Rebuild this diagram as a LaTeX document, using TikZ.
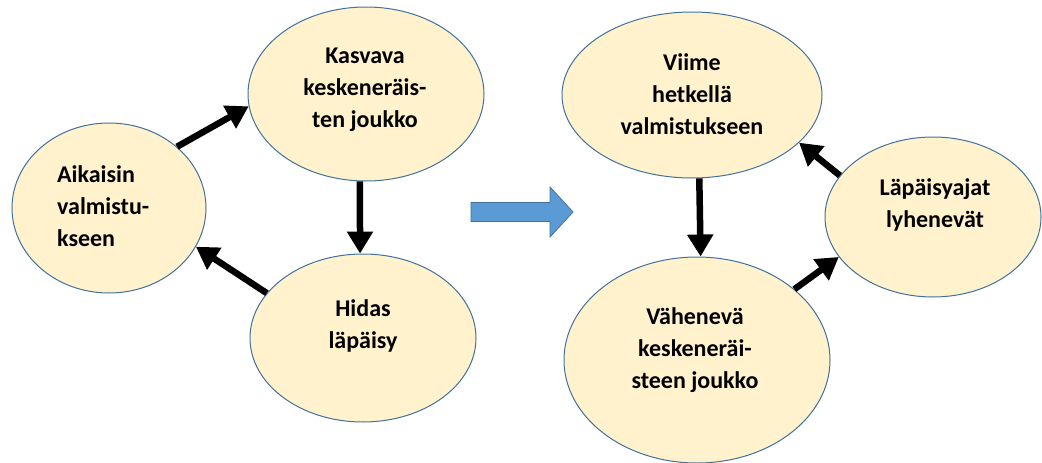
\documentclass[tikz,border=0pt]{standalone}
\usepackage{fontspec}
\setmainfont{Carlito}
\usetikzlibrary{arrows.meta,shapes.geometric}
\definecolor{bubblefill}{HTML}{FFF2CC}
\definecolor{bubbleline}{HTML}{41719C}
\definecolor{bigarrow}{HTML}{5B9BD5}
\definecolor{bigarrowline}{HTML}{41719C}
\tikzset{
  bubble/.style={ellipse, draw=bubbleline, line width=1pt, fill=bubblefill, inner sep=0pt},
  label text/.style={font=\fontsize{24pt}{32pt}\selectfont\bfseries, align=center, inner sep=0pt},
  flow/.style={line width=6.5pt, -{Triangle[length=22pt,width=25pt]}},
}
\begin{document}
\begin{tikzpicture}[x=1pt,y=-1pt]
\useasboundingbox (0,0) rectangle (1042,463);

% left cycle
\node[bubble, minimum width=194pt, minimum height=170pt] (A) at (109,208) {};
\node[bubble, minimum width=236pt, minimum height=174pt] (K) at (366,94) {};
\node[bubble, minimum width=226pt, minimum height=168pt] (H) at (363,338) {};

\node[label text, align=left, anchor=west] (At) at (57,206) {Aikaisin\\valmistu-\\kseen};
\node[label text] (Kt) at (365,90) {Kasvava\\keskeneräis-\\ten joukko};
\node[label text] (Ht) at (363,326) {Hidas\\läpäisy};

\draw[flow] (A.42) -- (K.186);
\draw[flow] (K.266) -- (H.92);
\draw[flow] (H.155) -- (A.336);

% transition arrow
\fill[bigarrow, draw=bigarrowline, line width=0.8pt]
  (471,202.5) -- (550,202.5) -- (550,187) -- (573,212) -- (550,237)
  -- (550,221.5) -- (471,221.5) -- cycle;

% right cycle
\node[bubble, minimum width=260pt, minimum height=166pt] (V) at (692,95) {};
\node[bubble, minimum width=216pt, minimum height=160pt] (L) at (933,217) {};
\node[bubble, minimum width=266pt, minimum height=206pt] (W) at (697,360) {};

\node[label text] (Vt) at (692,94) {Viime\\hetkellä\\valmistukseen};
\node[label text] (Lt) at (935,205) {Läpäisyajat\\lyhenevät};
\node[label text] (Wt) at (695,350) {Vähenevä\\keskeneräi-\\steen joukko};

\draw[flow] (V.275) -- (W.88);
\draw[flow] (L.156) -- (V.336);
\draw[flow] (W.36) -- (L.203);
\end{tikzpicture}
\end{document}
